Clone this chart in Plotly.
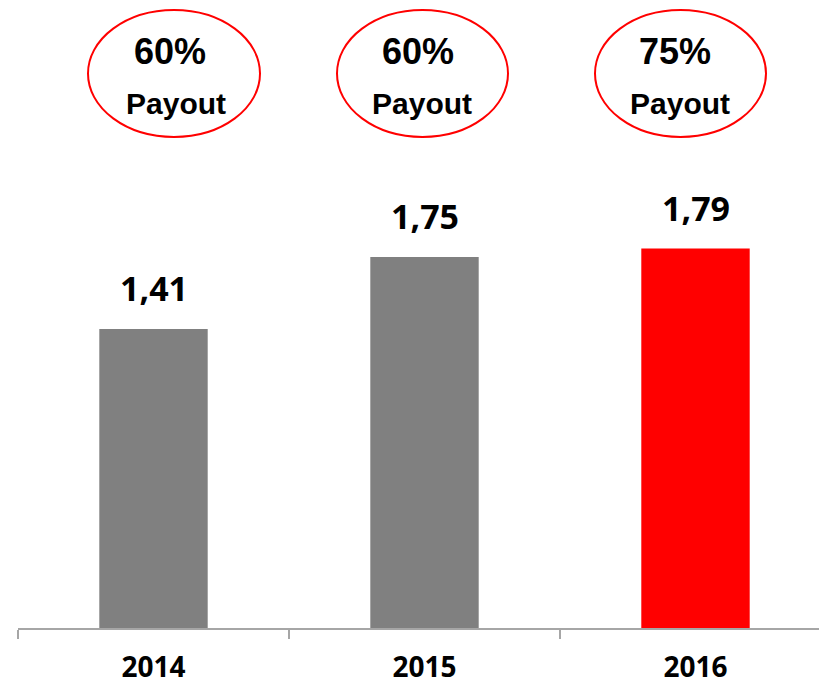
import plotly.graph_objects as go

years = ["2014", "2015", "2016"]
dividends = [1.41, 1.75, 1.79]
bar_colors = ["#808080", "#808080", "#ff0000"]
payout_pct = ["60%", "60%", "75%"]
payout_word = "Payout"

W, H = 819, 689
ML, MR, MT, MB = 18, 0, 0, 61
PW = W - ML - MR
PH = H - MT - MB
CAT_PX = 271.0
X_RANGE = [-0.5, -0.5 + PW / CAT_PX]
Y_PER_PX = 1 / 212.0
Y_RANGE = [0, PH * Y_PER_PX]

def px_x(px):
    return (px - ML) / PW

def px_y(py):
    return (H - MB - py) / PH

fig = go.Figure()
fig.add_trace(go.Bar(
    x=years, y=dividends, marker=dict(color=bar_colors, line=dict(width=0)),
    width=0.4, hoverinfo="skip",
))

val_font = dict(family="Open Sans, Liberation Sans, Arial", size=34, color="#000000")
for i, v in enumerate(dividends):
    fig.add_annotation(x=i, y=v, xref="x", yref="y", text="<b>" + f"{v:.2f}".replace(".", ",") + "</b>",
                       showarrow=False, xanchor="center", yanchor="bottom", yshift=16, font=val_font)

# payout ellipses (pixel geometry of the original slide)
ellipses = [(88, 260), (337, 508), (595, 766)]
pct_cx = [170, 418, 675]
word_cx = [176, 422, 680]
e_top, e_bot = 10, 137
for (x0, x1), p, cx1, cx2 in zip(ellipses, payout_pct, pct_cx, word_cx):
    fig.add_shape(type="circle", xref="paper", yref="paper",
                  x0=px_x(x0), x1=px_x(x1), y0=px_y(e_bot), y1=px_y(e_top),
                  line=dict(color="#ff0000", width=2), fillcolor="rgba(0,0,0,0)")
    fig.add_annotation(xref="paper", yref="paper", x=px_x(cx1), y=px_y(51),
                       text=f"<b>{p}</b>", showarrow=False, xanchor="center", yanchor="middle",
                       font=dict(family="Liberation Sans, Arial", size=36, color="#000000"))
    fig.add_annotation(xref="paper", yref="paper", x=px_x(cx2), y=px_y(103),
                       text=f"<b>{payout_word}</b>", showarrow=False, xanchor="center", yanchor="middle",
                       font=dict(family="Liberation Sans, Arial", size=30, color="#000000"))

fig.update_xaxes(
    type="category", range=X_RANGE, showgrid=False, zeroline=False, automargin=False,
    showline=True, linecolor="#a6a6a6", linewidth=1.5,
    ticks="outside", tickson="boundaries", ticklen=9, tickcolor="#a6a6a6", tickwidth=1.5,
    tickfont=dict(family="Open Sans, Liberation Sans, Arial", size=28, color="#000000", weight="bold"),
    ticklabelstandoff=14, fixedrange=True,
)
fig.update_yaxes(range=Y_RANGE, visible=False, showgrid=False, zeroline=False,
                 automargin=False, fixedrange=True)

fig.update_layout(
    width=W, height=H, margin=dict(l=ML, r=MR, t=MT, b=MB, pad=0, autoexpand=False),
    plot_bgcolor="#ffffff", paper_bgcolor="#ffffff", showlegend=False,
    separators=", ", bargap=0.6,
)
fig.update_traces(cliponaxis=False)

fig.write_html("out.html", config={"displayModeBar": False},
               post_script="document.body.style.margin='0';document.body.style.padding='0';")
